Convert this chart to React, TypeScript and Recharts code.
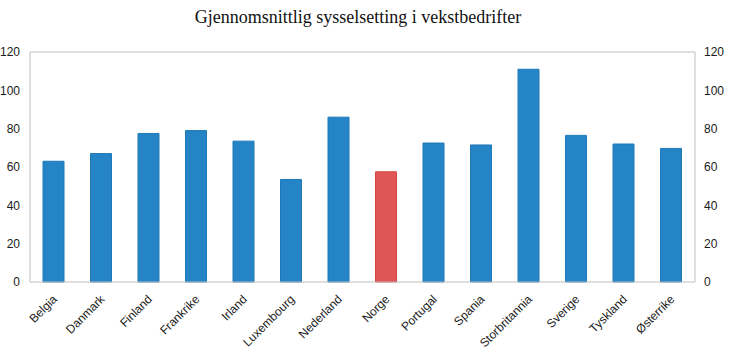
import React from 'react';
import { ComposedChart, Bar, Line, XAxis, YAxis, Cell, ReferenceLine } from 'recharts';

const countries = [
  'Belgia', 'Danmark', 'Finland', 'Frankrike', 'Irland', 'Luxembourg', 'Nederland',
  'Norge', 'Portugal', 'Spania', 'Storbritannia', 'Sverige', 'Tyskland', 'Østerrike',
];
const employment = [63, 67, 77.5, 79, 73.5, 53.5, 86, 57.5, 72.5, 71.5, 111, 76.5, 72, 69.7];
const yTicks = [0, 20, 40, 60, 80, 100, 120];

const data = countries.map((name, i) => ({ name, value: employment[i] }));

const BLUE = '#2584c6';
const RED = '#e05555';
const AXIS = '#bfbfbf';
const FONT = '"Liberation Sans", Arial, sans-serif';

function CountryTick(props: any) {
  const { x, y, payload } = props;
  return (
    <text
      x={x + 4}
      y={y + 10}
      transform={`rotate(-45, ${x + 4}, ${y + 10})`}
      textAnchor="end"
      fontSize={12}
      fontFamily={FONT}
      fill="#1a1a1a"
    >
      {payload.value}
    </text>
  );
}

export default function App() {
  return (
    <div style={{ position: 'absolute', left: 0, top: 0, width: 730, height: 363, background: '#fff' }}>
      <div
        style={{
          position: 'absolute', left: 0, top: 7, width: 716, textAlign: 'center',
          fontFamily: '"Liberation Serif", "Times New Roman", serif', fontSize: 18, color: '#111',
        }}
      >
        Gjennomsnittlig sysselsetting i vekstbedrifter
      </div>
      <ComposedChart
        width={730}
        height={363}
        data={data}
        margin={{ top: 52, right: 0, left: 0, bottom: 0 }}
      >
        <XAxis
          dataKey="name"
          interval={0}
          height={81}
          tickLine={false}
          axisLine={{ stroke: AXIS }}
          tick={<CountryTick />}
        />
        <YAxis
          yAxisId="left"
          orientation="left"
          width={30}
          domain={[0, 120]}
          ticks={yTicks}
          tickLine={false}
          tickSize={0}
          tickMargin={10}
          axisLine={{ stroke: AXIS }}
          tick={{ fontSize: 12, fontFamily: FONT, fill: '#1a1a1a' }}
        />
        <YAxis
          yAxisId="right"
          orientation="right"
          width={35}
          domain={[0, 120]}
          ticks={yTicks}
          tickLine={false}
          tickSize={0}
          tickMargin={9}
          axisLine={{ stroke: AXIS }}
          tick={{ fontSize: 12, fontFamily: FONT, fill: '#1a1a1a', textAnchor: 'start' }}
        />
        <ReferenceLine yAxisId="left" y={120} stroke={AXIS} />
        <Bar yAxisId="left" dataKey="value" isAnimationActive={false} barSize={21}>
          {data.map((d) => (
            <Cell
              key={d.name}
              fill={d.name === 'Norge' ? RED : BLUE}
              stroke={d.name === 'Norge' ? '#d94545' : '#1f78b8'}
            />
          ))}
        </Bar>
        <Line
          yAxisId="right"
          dataKey="value"
          stroke="none"
          dot={false}
          activeDot={false}
          legendType="none"
          isAnimationActive={false}
        />
      </ComposedChart>
    </div>
  );
}
